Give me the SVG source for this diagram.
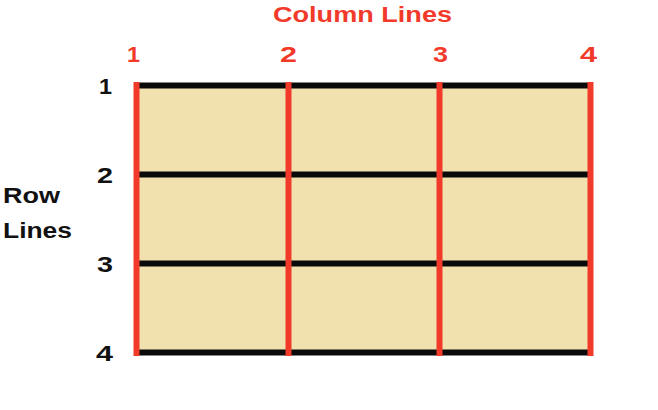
<svg xmlns="http://www.w3.org/2000/svg" width="658" height="410" viewBox="0 0 658 410">
<style>
.t{font-family:"Liberation Sans",Arial,sans-serif;font-weight:bold;font-size:22px}
.red{fill:#F23A2B}
.blk{fill:#111}
.h{stroke:#0a0a0a;stroke-width:6}
.v{stroke:#F23A2B;stroke-width:6}
</style>
<rect width="658" height="410" fill="#fff"/>
<g id="grid">
<rect x="136" y="86" width="454" height="266" fill="#F0E1AF"/>
</g>
<g id="connectors">
<line class="h" x1="136" y1="85.5" x2="590" y2="85.5"/>
<line class="h" x1="136" y1="174.5" x2="590" y2="174.5"/>
<line class="h" x1="136" y1="263.5" x2="590" y2="263.5"/>
<line class="h" x1="136" y1="352.5" x2="590" y2="352.5"/>
<line class="v" x1="136.5" y1="82" x2="136.5" y2="356"/>
<line class="v" x1="288.5" y1="82" x2="288.5" y2="356"/>
<line class="v" x1="439.5" y1="82" x2="439.5" y2="356"/>
<line class="v" x1="590.5" y1="82" x2="590.5" y2="356"/>
</g>
<g id="column-labels">
<text class="t red" x="273" y="22" textLength="179" lengthAdjust="spacingAndGlyphs">Column Lines</text>
<text class="t red" x="127" y="62" textLength="13" lengthAdjust="spacingAndGlyphs">1</text>
<text class="t red" x="280" y="62" textLength="17" lengthAdjust="spacingAndGlyphs">2</text>
<text class="t red" x="433" y="62" textLength="15" lengthAdjust="spacingAndGlyphs">3</text>
<text class="t red" x="580" y="62" textLength="17" lengthAdjust="spacingAndGlyphs">4</text>
</g>
<g id="row-labels">
<text class="t blk" x="3" y="203" textLength="57" lengthAdjust="spacingAndGlyphs">Row</text>
<text class="t blk" x="3" y="238" textLength="69" lengthAdjust="spacingAndGlyphs">Lines</text>
<text class="t blk" x="99" y="94" textLength="13" lengthAdjust="spacingAndGlyphs">1</text>
<text class="t blk" x="97" y="183" textLength="16" lengthAdjust="spacingAndGlyphs">2</text>
<text class="t blk" x="97" y="272" textLength="16" lengthAdjust="spacingAndGlyphs">3</text>
<text class="t blk" x="96" y="361" textLength="17" lengthAdjust="spacingAndGlyphs">4</text>
</g>
</svg>
